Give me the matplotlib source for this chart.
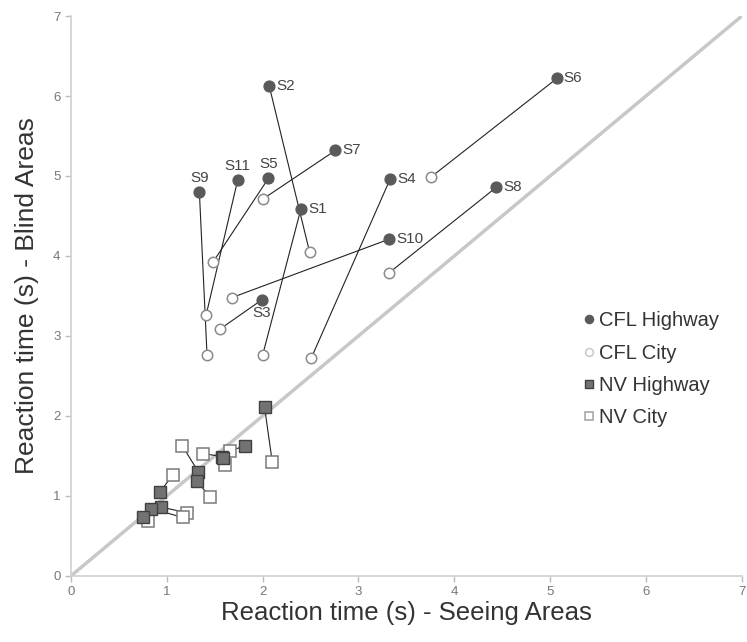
import matplotlib
matplotlib.use("Agg")
import matplotlib.pyplot as plt

plt.rcParams["font.family"] = ["Liberation Sans", "DejaVu Sans"]

# CFL subjects: (seeing, blind) reaction times, highway and city
subjects = ["S1", "S2", "S3", "S4", "S5", "S6", "S7", "S8", "S9", "S10", "S11"]
cfl_hwy_x = [2.40, 2.07, 1.99, 3.33, 2.06, 5.07, 2.76, 4.44, 1.34, 3.32, 1.74]
cfl_hwy_y = [4.59, 6.12, 3.45, 4.96, 4.97, 6.22, 5.32, 4.86, 4.80, 4.21, 4.95]
cfl_city_x = [2.00, 2.49, 1.56, 2.51, 1.48, 3.76, 2.00, 3.32, 1.42, 1.68, 1.41]
cfl_city_y = [2.76, 4.05, 3.09, 2.73, 3.92, 4.99, 4.71, 3.79, 2.76, 3.48, 3.26]
# label placement per subject: r = right, t = top, b = bottom
label_pos = ["r", "r", "b", "r", "t", "r", "r", "r", "t", "r", "t"]

# NV subjects
nv_hwy_x = [2.02, 1.82, 1.58, 1.59, 1.33, 1.31, 0.93, 0.94, 0.84, 0.75]
nv_hwy_y = [2.11, 1.63, 1.49, 1.47, 1.30, 1.19, 1.05, 0.86, 0.84, 0.74]
nv_city_x = [2.10, 1.66, 1.38, 1.61, 1.16, 1.45, 1.06, 1.21, 1.17, 0.80]
nv_city_y = [1.43, 1.56, 1.53, 1.39, 1.63, 0.99, 1.26, 0.79, 0.73, 0.68]

fig = plt.figure(figsize=(7.47, 6.42), dpi=100)
ax = fig.add_axes([0.095, 0.103, 0.898, 0.872])

ax.plot([0, 7], [0, 7], color="#c8c8c8", linewidth=2.5, zorder=1, solid_capstyle="butt")

for i in range(len(cfl_hwy_x)):
    ax.plot([cfl_hwy_x[i], cfl_city_x[i]], [cfl_hwy_y[i], cfl_city_y[i]],
            color="#222222", linewidth=0.8, zorder=2)
for i in range(len(nv_hwy_x)):
    ax.plot([nv_hwy_x[i], nv_city_x[i]], [nv_hwy_y[i], nv_city_y[i]],
            color="#222222", linewidth=0.8, zorder=2)

ax.plot(cfl_city_x, cfl_city_y, "o", markersize=7.5, markerfacecolor="white",
        markeredgecolor="#8a8a8a", markeredgewidth=1.1, linestyle="none",
        zorder=3, label="CFL City")
ax.plot(cfl_hwy_x, cfl_hwy_y, "o", markersize=7.8, markerfacecolor="#5a5a5a",
        markeredgecolor="#5a5a5a", linestyle="none", zorder=4, label="CFL Highway")
ax.plot(nv_city_x, nv_city_y, "s", markersize=8, markerfacecolor="white",
        markeredgecolor="#7a7a7a", markeredgewidth=1.1, linestyle="none",
        zorder=3, label="NV City")
ax.plot(nv_hwy_x, nv_hwy_y, "s", markersize=8.5, markerfacecolor="#727272",
        markeredgecolor="#404040", markeredgewidth=1.0, linestyle="none",
        zorder=4, label="NV Highway")

for name, x, y, p in zip(subjects, cfl_hwy_x, cfl_hwy_y, label_pos):
    if p == "r":
        ax.annotate(name, (x, y), xytext=(5, 0), textcoords="offset points",
                    ha="left", va="center", fontsize=11, color="#444444")
    elif p == "t":
        ax.annotate(name, (x, y), xytext=(0, 5), textcoords="offset points",
                    ha="center", va="bottom", fontsize=11, color="#444444")
    else:
        ax.annotate(name, (x, y), xytext=(0, -4), textcoords="offset points",
                    ha="center", va="top", fontsize=11, color="#444444")

ax.set_xlim(0, 7)
ax.set_ylim(0, 7)
ax.set_xticks(range(8))
ax.set_yticks(range(8))
ax.tick_params(colors="#bbbbbb", labelcolor="#777777", labelsize=9.5, length=4, width=1)
for s in ["top", "right"]:
    ax.spines[s].set_visible(False)
for s in ["left", "bottom"]:
    ax.spines[s].set_color("#d0d0d0")
    ax.spines[s].set_linewidth(1.2)

ax.set_xlabel("Reaction time (s) - Seeing Areas", fontsize=18.5, color="#333333", labelpad=2)
ax.set_ylabel("Reaction time (s) - Blind Areas", fontsize=19, color="#333333", labelpad=10)

h, l = ax.get_legend_handles_labels()
order = [l.index(n) for n in ["CFL Highway", "CFL City", "NV Highway", "NV City"]]
leg = ax.legend([h[i] for i in order], [l[i] for i in order], loc="upper left",
                bbox_to_anchor=(0.73, 0.505), frameon=False, fontsize=14.5,
                handletextpad=0.0, handlelength=1.0, labelspacing=0.66, markerscale=0.75)
for t in leg.get_texts():
    t.set_color("#333333")
leg.legend_handles[1].set_markeredgecolor("#c8c8c8")
leg.legend_handles[3].set_markeredgecolor("#a0a0a0")

fig.savefig("out.png", dpi=100)
